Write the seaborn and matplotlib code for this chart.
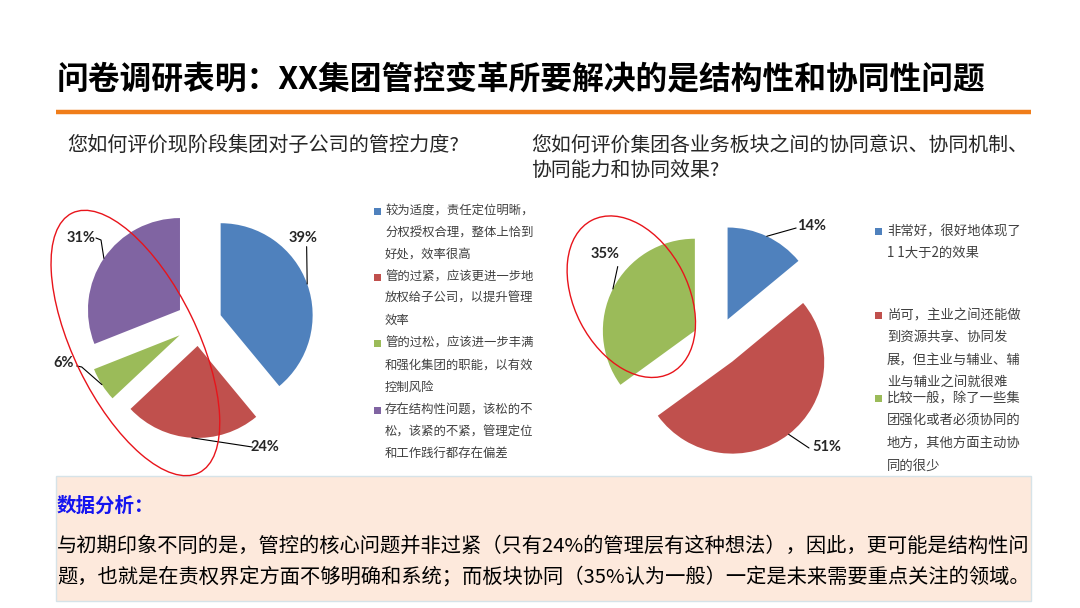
import numpy as np
import matplotlib
matplotlib.use("Agg")
import matplotlib.pyplot as plt
from matplotlib.patches import Ellipse, Rectangle
import seaborn as sns

# ---------------- data ----------------
title = "问卷调研表明：XX集团管控变革所要解决的是结构性和协同性问题"
q1 = "您如何评价现阶段集团对子公司的管控力度?"
q2_lines = ["您如何评价集团各业务板块之间的协同意识、协同机制、", "协同能力和协同效果?"]

pie1_values = [39, 24, 6, 31]
pie1_labels = ["39%", "24%", "6%", "31%"]
pie1_legend = [
    ["较为适度，责任定位明晰，", "分权授权合理，整体上恰到", "好处，效率很高"],
    ["管的过紧，应该更进一步地", "放权给子公司，以提升管理", "效率"],
    ["管的过松，应该进一步丰满", "和强化集团的职能，以有效", "控制风险"],
    ["存在结构性问题，该松的不", "松，该紧的不紧，管理定位", "和工作践行都存在偏差"],
]

pie2_values = [14, 51, 35]
pie2_labels = ["14%", "51%", "35%"]
pie2_legend = [
    ["非常好，很好地体现了", "1 1大于2的效果"],
    ["尚可，主业之间还能做", "到资源共享、协同发", "展，但主业与辅业、辅", "业与辅业之间就很难"],
    ["比较一般，除了一些集", "团强化或者必须协同的", "地方，其他方面主动协", "同的很少"],
]

analysis_head = "数据分析："
analysis_lines = [
    "与初期印象不同的是，管控的核心问题并非过紧（只有24%的管理层有这种想法），因此，更可能是结构性问",
    "题，也就是在责权界定方面不够明确和系统；而板块协同（35%认为一般）一定是未来需要重点关注的领域。",
]

# ---------------- style ----------------
sns.set_theme(style="white")
plt.rcParams["font.family"] = ["Noto Sans CJK SC", "DejaVu Sans"]
colors = sns.color_palette(["#4F81BD", "#C0504D", "#9BBB59", "#8064A2"])

W, H = 1080, 608
fig = plt.figure(figsize=(W / 100, H / 100), dpi=100)
fig.patch.set_facecolor("white")

# background axes in pixel coordinates (y down)
bg = fig.add_axes([0, 0, 1, 1])
bg.set_xlim(0, W)
bg.set_ylim(H, 0)
bg.axis("off")

bg.plot([56, 1031], [112, 112], color="#F07D1A", lw=3.2, solid_capstyle="butt")
bg.add_patch(Rectangle((56, 476), 975, 125, facecolor="#FDE9DC",
                       edgecolor="#D6E3E8", lw=1.0))

bg.text(57, 79, title, fontsize=22.9, fontweight="black", color="black",
        va="center", ha="left")
bg.text(67, 145, q1, fontsize=14.5, color="#262626", va="center", ha="left")
for i, s in enumerate(q2_lines):
    bg.text(531, 145 + 25 * i, s, fontsize=14.3, color="#262626",
            va="center", ha="left")

bg.text(57, 506, analysis_head, fontsize=14, fontweight="bold",
        color="#1414F0", va="center", ha="left")
for i, s in enumerate(analysis_lines):
    bg.text(57, 546 + 31 * i, s, fontsize=14.6, color="black",
            va="center", ha="left")

# legends
def draw_legend(items, x_sq, x_txt, line_ys, fs):
    k = 0
    for ci, lines in enumerate(items):
        for li, s in enumerate(lines):
            y = line_ys[k]
            if li == 0:
                bg.add_patch(Rectangle((x_sq - 3.5, y - 3.5), 7, 7,
                                       facecolor=colors[ci], edgecolor="none"))
            bg.text(x_txt, y, s, fontsize=fs, color="#404040",
                    va="center", ha="left")
            k += 1

draw_legend(pie1_legend, 377, 385,
            [211, 233, 254, 277, 298, 320, 343, 365, 387, 410, 432, 453], 8.9)
draw_legend(pie2_legend, 878, 887,
            [231, 253, 315, 337, 360, 382, 398, 420, 443, 466], 9.6)

# ---------------- pies ----------------
R = 92.0   # radius in pixels
HALF = 160.0

def pie_axes(cx, cy):
    ax = fig.add_axes([(cx - HALF) / W, (H - cy - HALF) / H, 2 * HALF / W, 2 * HALF / H])
    ax.patch.set_alpha(0)
    return ax

def draw_pie(ax, values, labels, cols, explode, text_pos, leaders):
    wedges, _ = ax.pie(values, colors=cols, startangle=90, counterclock=False,
                       explode=[explode] * len(values), radius=1.0,
                       wedgeprops=dict(linewidth=0))
    L = HALF / R
    ax.set_xlim(-L, L)
    ax.set_ylim(-L, L)
    ax.set_aspect("equal")
    ax.axis("off")
    for w, lab, tp, pts in zip(wedges, labels, text_pos, leaders):
        th = np.deg2rad((w.theta1 + w.theta2) / 2)
        cx, cy = w.center
        anchor = (cx + np.cos(th), cy + np.sin(th))
        path = list(pts) + [anchor]
        xs = [p[0] for p in path]
        ys = [p[1] for p in path]
        ax.plot(xs, ys, color="black", lw=0.8)
        ax.text(tp[0], tp[1], lab, fontsize=10.5, fontweight="bold",
                family=["Lato", "DejaVu Sans"], color="#262626",
                ha="center", va="center")

ax1 = pie_axes(199, 323)
draw_pie(ax1, pie1_values, pie1_labels, colors[:4], 0.25,
         text_pos=[(1.13, 0.927), (0.717, -1.351), (-1.467, -0.438), (-1.286, 0.927)],
         leaders=[[(1.17, 0.83)],
                  [(0.58, -1.348)],
                  [(-1.33, -0.467), (-1.275, -0.478)],
                  [(-1.12, 0.924), (-1.065, 0.902)]])

ax2 = pie_axes(717, 342)
draw_pie(ax2, pie2_values, pie2_labels, colors[:3], 0.27,
         text_pos=[(1.022, 1.264), (1.199, -1.145), (-1.217, 0.953)],
         leaders=[[(0.86, 1.239)],
                  [(1.0, -1.152)],
                  [(-1.079, 0.82)]])

# ---------------- overlay ellipses ----------------
ov = fig.add_axes([0, 0, 1, 1])
ov.set_xlim(0, W)
ov.set_ylim(H, 0)
ov.axis("off")
ov.patch.set_alpha(0)
ov.add_patch(Ellipse((135.4, 343), 289, 124, angle=64, fill=False,
                     edgecolor="#E8141B", lw=1.0))
ov.add_patch(Ellipse((631.3, 296.7), 172, 114, angle=62.7, fill=False,
                     edgecolor="#E8141B", lw=1.0))

fig.savefig("out.png", dpi=100, facecolor="white")
